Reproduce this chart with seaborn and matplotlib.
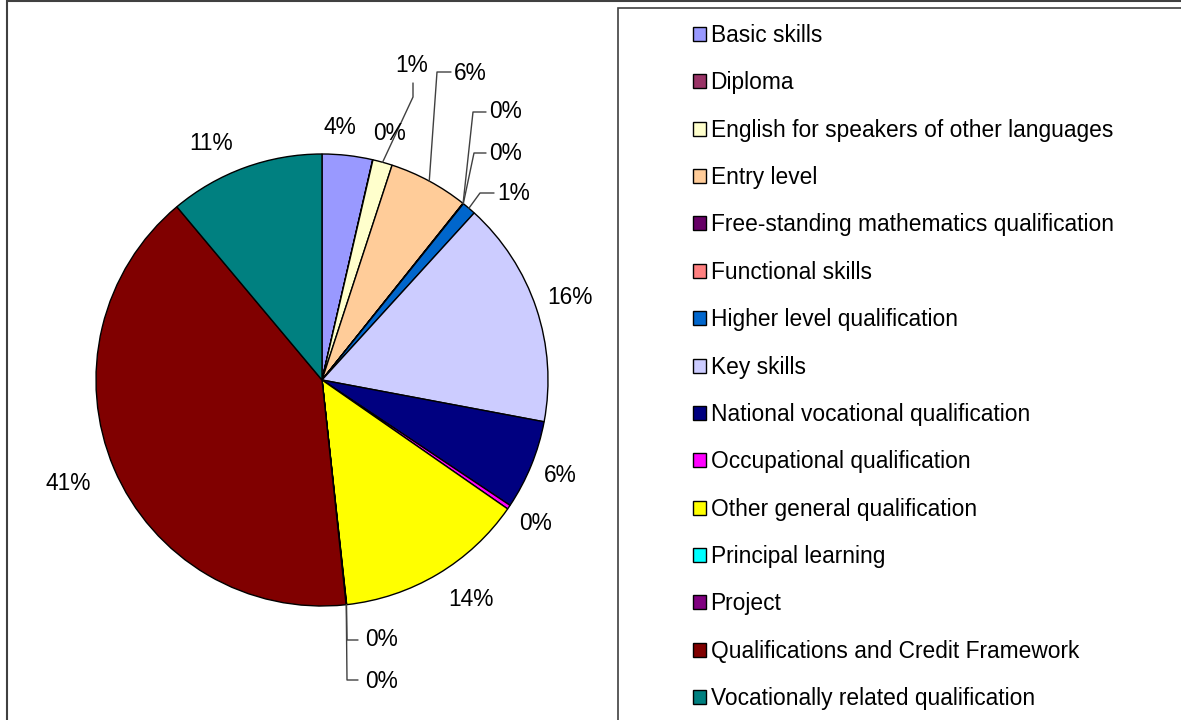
import numpy as np
import matplotlib
matplotlib.use("Agg")
import matplotlib.pyplot as plt
from matplotlib.patches import Rectangle
import seaborn as sns

# data (share of learners, percent)
categories = [
    "Basic skills", "Diploma", "English for speakers of other languages",
    "Entry level", "Free-standing mathematics qualification", "Functional skills",
    "Higher level qualification", "Key skills", "National vocational qualification",
    "Occupational qualification", "Other general qualification", "Principal learning",
    "Project", "Qualifications and Credit Framework", "Vocationally related qualification",
]
values = [3.6, 0.02, 1.4, 5.7, 0.02, 0.02, 1.0, 16.2, 6.4, 0.3, 13.6, 0.02, 0.02, 40.6, 11.1]
colors = ["#9999FF", "#993366", "#FFFFCC", "#FFCC99", "#660066", "#FF8080",
          "#0066CC", "#CCCCFF", "#000080", "#FF00FF", "#FFFF00", "#00FFFF",
          "#800080", "#800000", "#008080"]

# label text positions (image pixels, centre of text)
label_pos = [(340, 127), (389, 133), (412, 66), (470, 73), (506, 112), (506, 153),
             (514, 193), (570, 297), (560, 476), (536, 524), (471, 600), (381, 640),
             (381, 681), (68, 483), (211, 143)]
# leader line bends for the crowded labels (image pixels)
leaders = {
    2: [(413, 97), (413, 83)],
    3: [(437, 72), (451, 72)],
    4: [(473, 112), (486, 112)],
    5: [(474, 153), (486, 153)],
    6: [(480, 193), (494, 193)],
    11: [(347, 640), (358, 640)],
    12: [(347, 680), (358, 680)],
}

sns.set_theme(style="white")
plt.rcParams["font.family"] = ["Liberation Sans", "DejaVu Sans"]
FS = 16.4

W, H = 1181, 720
fig = plt.figure(figsize=(W / 100, H / 100), dpi=100)
ax = fig.add_axes([0, 0, 1, 1])

cx, cy, r = 322, H - 380, 226
wedges, _ = ax.pie(values, colors=colors, startangle=90, counterclock=False,
                   center=(cx, cy), radius=r, frame=True,
                   wedgeprops=dict(edgecolor="black", linewidth=1))
ax.set_xlim(0, W)
ax.set_ylim(0, H)
ax.axis("off")

total = sum(values)
for i, w in enumerate(wedges):
    pct = f"{round(values[i] / total * 100):.0f}%"
    tx, ty = label_pos[i]
    ax.text(tx, H - ty, pct, ha="center", va="center", fontsize=FS, color="black")
    if i in leaders:
        mid = np.deg2rad((w.theta1 + w.theta2) / 2)
        pts = [(cx + r * np.cos(mid), cy + r * np.sin(mid))]
        pts += [(x, H - y) for x, y in leaders[i]]
        xs, ys = zip(*pts)
        ax.plot(xs, ys, color="#404040", linewidth=1)

# outer chart frame and legend box
ax.add_patch(Rectangle((7, -10), W + 20, H - 1 + 10, fill=False,
                       edgecolor="#404040", linewidth=1.5, clip_on=False))
ax.add_patch(Rectangle((618, -10), W, H - 8 + 10, fill=False,
                       edgecolor="#404040", linewidth=1.2, clip_on=False))

leg = ax.legend(wedges, categories, loc="upper left",
                bbox_to_anchor=(693 / W, 1 - 24 / H), frameon=False,
                fontsize=FS, labelcolor="black", handlelength=0.57, handleheight=0.57,
                handletextpad=0.2, labelspacing=1.07, borderpad=0, borderaxespad=0)
for h in leg.legend_handles:
    h.set_edgecolor("black")
    h.set_linewidth(1)

fig.savefig("out.png", dpi=100)
